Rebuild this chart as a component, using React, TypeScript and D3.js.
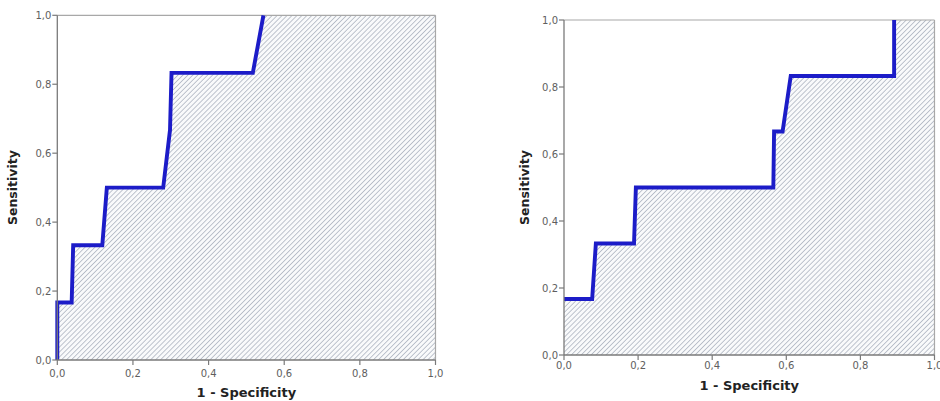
import * as d3 from "d3";

// ROC curves (1 - specificity, sensitivity)
const leftFpr = [0, 0, 0.038, 0.042, 0.119, 0.131, 0.28, 0.298, 0.302, 0.517, 0.545];
const leftTpr = [0, 0.167, 0.167, 0.333, 0.333, 0.5, 0.5, 0.667, 0.833, 0.833, 1];

const rightFpr = [0, 0.076, 0.086, 0.189, 0.194, 0.565, 0.567, 0.59, 0.612, 0.891, 0.891];
const rightTpr = [0.167, 0.167, 0.333, 0.333, 0.5, 0.5, 0.667, 0.667, 0.833, 0.833, 1];

const ticks = [0, 0.2, 0.4, 0.6, 0.8, 1.0];
const tickLabels = ["0,0", "0,2", "0,4", "0,6", "0,8", "1,0"];

const FONT = "'DejaVu Sans', Verdana, sans-serif";
const BLUE = "#1c1cc8";

interface PanelProps {
  id: string;
  fpr: number[];
  tpr: number[];
  x0: number;
  x1: number;
  y0: number;
  y1: number;
  yTitleX: number;
  xTitleY: number;
  tickLabelDy: number;
}

function Panel({ id, fpr, tpr, x0, x1, y0, y1, yTitleX, xTitleY, tickLabelDy }: PanelProps) {
  const x = d3.scaleLinear().domain([0, 1]).range([x0, x1]);
  const y = d3.scaleLinear().domain([0, 1]).range([y0, y1]);

  const pts: [number, number][] = fpr.map((f, i) => [f, tpr[i]]);
  const areaPts: [number, number][] = [[0, 0], ...pts, [1, 1], [1, 0]];

  const line = d3
    .line<[number, number]>()
    .x((d) => x(d[0]))
    .y((d) => y(d[1]));

  const poly = line(areaPts) + "Z";

  return (
    <g>
      <defs>
        <pattern
          id={`hatch-${id}`}
          width={3.5}
          height={3.5}
          patternUnits="userSpaceOnUse"
          patternTransform="rotate(45)"
        >
          <rect width={3.5} height={3.5} fill="#f9fafb" />
          <line x1={0} y1={0} x2={0} y2={3.5} stroke="#9fa6b5" strokeWidth={1.3} />
        </pattern>
      </defs>

      <path d={poly} fill={`url(#hatch-${id})`} stroke="none" />

      {/* frame */}
      <line x1={x0} x2={x1} y1={y1} y2={y1} stroke="#a8a8a8" strokeWidth={1.2} />
      <line x1={x1} x2={x1} y1={y1} y2={y0} stroke="#a8a8a8" strokeWidth={1.2} />

      <path
        d={line(pts) ?? ""}
        fill="none"
        stroke={BLUE}
        strokeWidth={3.9}
        strokeLinejoin="miter"
      />

      {/* axes */}
      <line x1={x0} x2={x0} y1={y0} y2={y1} stroke="#7a7a7a" strokeWidth={1.3} />
      <line x1={x0} x2={x1} y1={y0} y2={y0} stroke="#7a7a7a" strokeWidth={1.3} />

      {ticks.map((t, i) => (
        <g key={`y${i}`}>
          <line x1={x0 - 5} x2={x0} y1={y(t)} y2={y(t)} stroke="#7a7a7a" strokeWidth={1.2} />
          <text
            x={x0 - 6}
            y={y(t)}
            dy="0.35em"
            textAnchor="end"
            fontSize={10}
            fill="#5e5e5e"
            fontFamily={FONT}
          >
            {tickLabels[i]}
          </text>
        </g>
      ))}
      {ticks.map((t, i) => (
        <g key={`x${i}`}>
          <line x1={x(t)} x2={x(t)} y1={y0} y2={y0 + 5} stroke="#7a7a7a" strokeWidth={1.2} />
          <text
            x={x(t)}
            y={y0 + tickLabelDy}
            textAnchor="middle"
            fontSize={10}
            fill="#5e5e5e"
            fontFamily={FONT}
          >
            {tickLabels[i]}
          </text>
        </g>
      ))}

      <text
        x={(x0 + x1) / 2}
        y={xTitleY}
        textAnchor="middle"
        fontSize={13}
        fontWeight="bold"
        fill="#222"
        fontFamily={FONT}
      >
        1 - Specificity
      </text>
      <text
        transform={`translate(${yTitleX},${(y0 + y1) / 2}) rotate(-90)`}
        textAnchor="middle"
        fontSize={12.5}
        fontWeight="bold"
        fill="#222"
        fontFamily={FONT}
      >
        Sensitivity
      </text>
    </g>
  );
}

export default function App() {
  return (
    <svg
      width={940}
      height={401}
      style={{ position: "absolute", left: 0, top: 0, background: "#fff" }}
    >
      <Panel
        id="l"
        fpr={leftFpr}
        tpr={leftTpr}
        x0={57.3}
        x1={435.5}
        y0={360}
        y1={15.3}
        yTitleX={17}
        xTitleY={397}
        tickLabelDy={17}
      />
      <Panel
        id="r"
        fpr={rightFpr}
        tpr={rightTpr}
        x0={564}
        x1={934.5}
        y0={355}
        y1={20}
        yTitleX={529}
        xTitleY={390}
        tickLabelDy={14}
      />
    </svg>
  );
}
